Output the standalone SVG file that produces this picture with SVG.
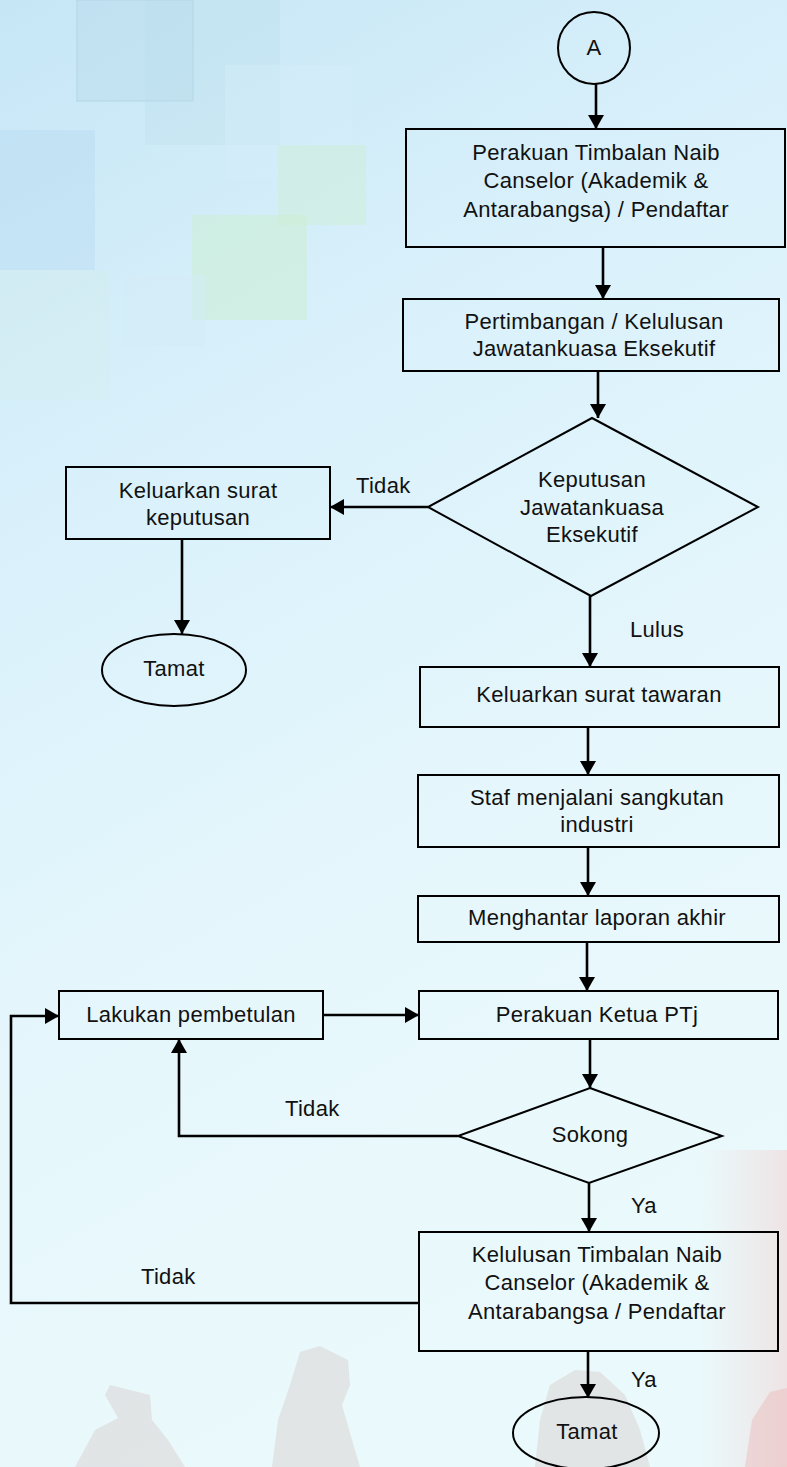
<svg xmlns="http://www.w3.org/2000/svg" width="787" height="1467" viewBox="0 0 787 1467">
<defs>
<linearGradient id="bg" x1="0" y1="0" x2="0.3" y2="1">
<stop offset="0" stop-color="#c6e6f6"/>
<stop offset="0.35" stop-color="#daf1fb"/>
<stop offset="0.7" stop-color="#e6f7fc"/>
<stop offset="1" stop-color="#eaf9fb"/>
</linearGradient>
<linearGradient id="rt" x1="0" y1="0" x2="1" y2="0">
<stop offset="0" stop-color="#f3d6d6" stop-opacity="0"/>
<stop offset="1" stop-color="#f1d2d2" stop-opacity="0.55"/>
</linearGradient>
<linearGradient id="rtv" x1="0" y1="0" x2="0" y2="1">
<stop offset="0" stop-color="#fff" stop-opacity="1"/>
<stop offset="1" stop-color="#fff" stop-opacity="0"/>
</linearGradient>
<mask id="fade"><rect x="700" y="1150" width="87" height="317" fill="url(#rtv)"/></mask>
<marker id="ah" markerUnits="userSpaceOnUse" markerWidth="14" markerHeight="16" refX="14" refY="8" orient="auto">
<path d="M0,0 L14,8 L0,16 Z" fill="#000"/>
</marker>
<style>
.n{fill:none;stroke:#000;stroke-width:2}
.c{fill:none;stroke:#000;stroke-width:2.6;marker-end:url(#ah)}
text{font-family:"Liberation Sans",Arial,sans-serif;font-size:22px;letter-spacing:0.3px;fill:#111}
.m{text-anchor:middle}
.sil{fill:#d8cccc;opacity:0.45}
</style>
</defs>
<g id="background">
<rect x="0" y="0" width="787" height="1467" fill="url(#bg)"/>
<rect x="0" y="130" width="95" height="140" fill="#b8dbf2" opacity="0.45"/>
<rect x="77" y="0" width="116" height="101" fill="#bcddee" stroke="#9cc3d3" stroke-width="1" opacity="0.5"/>
<rect x="145" y="0" width="135" height="145" fill="#b8dde9" opacity="0.3"/>
<rect x="225" y="65" width="127" height="115" fill="#d4eefa" opacity="0.45"/>
<rect x="278" y="145" width="88" height="80" fill="#cdeed5" opacity="0.5"/>
<rect x="192" y="215" width="115" height="105" fill="#cdeed6" opacity="0.6"/>
<rect x="125" y="275" width="80" height="72" fill="#d3ecf8" opacity="0.5"/>
<rect x="0" y="270" width="110" height="130" fill="#d6efea" opacity="0.35"/>
<rect x="700" y="1150" width="87" height="317" fill="url(#rt)"/>
<path class="sil" d="M75,1467 L95,1430 L118,1418 L105,1395 L110,1385 L130,1390 L150,1395 L152,1420 L168,1440 L185,1467 Z"/>
<path class="sil" d="M272,1467 L278,1420 L290,1385 L300,1352 L320,1346 L348,1360 L350,1385 L342,1405 L352,1440 L360,1467 Z"/>
<path class="sil" d="M535,1467 L540,1420 L550,1385 L575,1370 L600,1372 L625,1395 L640,1430 L650,1467 Z"/>
<path d="M745,1467 L752,1420 L770,1392 L787,1388 L787,1467 Z" fill="#eab8b8" opacity="0.45"/>
</g>
<g id="connectors">
<line class="c" x1="596" y1="84" x2="596" y2="129"/>
<line class="c" x1="603" y1="247" x2="603" y2="299"/>
<line class="c" x1="598" y1="371" x2="598" y2="418"/>
<line class="c" x1="428" y1="507" x2="330" y2="507"/>
<line class="c" x1="182" y1="539" x2="182" y2="634"/>
<line class="c" x1="590" y1="596" x2="590" y2="667"/>
<line class="c" x1="588" y1="727" x2="588" y2="775"/>
<line class="c" x1="588" y1="847" x2="588" y2="896"/>
<line class="c" x1="587" y1="942" x2="587" y2="991"/>
<line class="c" x1="323" y1="1015" x2="419" y2="1015"/>
<line class="c" x1="590" y1="1039" x2="590" y2="1088"/>
<polyline class="c" points="458,1136 179,1136 179,1039"/>
<line class="c" x1="589" y1="1183" x2="589" y2="1232"/>
<polyline class="c" points="419,1303 11,1303 11,1016 59,1016"/>
<line class="c" x1="588" y1="1351" x2="588" y2="1398"/>
<text x="356" y="493">Tidak</text>
<text x="630" y="637">Lulus</text>
<text x="285" y="1116">Tidak</text>
<text x="631" y="1213">Ya</text>
<text x="141" y="1284">Tidak</text>
<text x="631" y="1387">Ya</text>
</g>
<g id="start-A">
<circle class="n" cx="594" cy="48" r="36"/>
<text class="m" x="594" y="55">A</text>
</g>
<g id="perakuan-tnc">
<rect class="n" x="406" y="129" width="379" height="118"/>
<text class="m" x="596" y="160">Perakuan Timbalan Naib</text>
<text class="m" x="596" y="188">Canselor (Akademik &amp;</text>
<text class="m" x="596" y="217">Antarabangsa) / Pendaftar</text>
</g>
<g id="pertimbangan">
<rect class="n" x="403" y="299" width="376" height="72"/>
<text class="m" x="594" y="329">Pertimbangan / Kelulusan</text>
<text class="m" x="594" y="356">Jawatankuasa Eksekutif</text>
</g>
<g id="keputusan">
<polygon class="n" points="592,418 758,507 591,596 428,507"/>
<text class="m" x="592" y="487">Keputusan</text>
<text class="m" x="592" y="515">Jawatankuasa</text>
<text class="m" x="592" y="542">Eksekutif</text>
</g>
<g id="surat-keputusan">
<rect class="n" x="66" y="467" width="264" height="72"/>
<text class="m" x="198" y="498">Keluarkan surat</text>
<text class="m" x="198" y="525">keputusan</text>
</g>
<g id="tamat-1">
<ellipse class="n" cx="174" cy="670" rx="72" ry="36"/>
<text class="m" x="174" y="676">Tamat</text>
</g>
<g id="surat-tawaran">
<rect class="n" x="420" y="667" width="359" height="60"/>
<text class="m" x="599" y="702">Keluarkan surat tawaran</text>
</g>
<g id="staf">
<rect class="n" x="418" y="775" width="361" height="72"/>
<text class="m" x="597" y="805">Staf menjalani sangkutan</text>
<text class="m" x="597" y="832">industri</text>
</g>
<g id="laporan">
<rect class="n" x="418" y="896" width="361" height="46"/>
<text class="m" x="597" y="925">Menghantar laporan akhir</text>
</g>
<g id="pembetulan">
<rect class="n" x="59" y="991" width="264" height="48"/>
<text class="m" x="191" y="1022">Lakukan pembetulan</text>
</g>
<g id="perakuan-ptj">
<rect class="n" x="419" y="991" width="359" height="48"/>
<text class="m" x="597" y="1022">Perakuan Ketua PTj</text>
</g>
<g id="sokong">
<polygon class="n" points="590,1088 722,1136 589,1183 458,1136"/>
<text class="m" x="590" y="1142">Sokong</text>
</g>
<g id="kelulusan-tnc">
<rect class="n" x="419" y="1232" width="359" height="119"/>
<text class="m" x="597" y="1262">Kelulusan Timbalan Naib</text>
<text class="m" x="597" y="1290">Canselor (Akademik &amp;</text>
<text class="m" x="597" y="1319">Antarabangsa / Pendaftar</text>
</g>
<g id="tamat-2">
<ellipse class="n" cx="586" cy="1433" rx="73" ry="36"/>
<text class="m" x="587" y="1439">Tamat</text>
</g>
</svg>
